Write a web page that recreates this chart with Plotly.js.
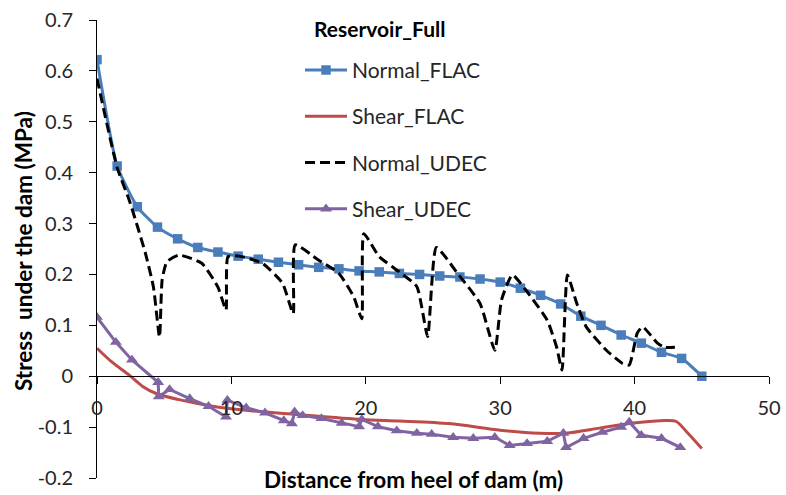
<!DOCTYPE html>
<html>
<head>
<meta charset="utf-8">
<script src="https://cdn.plot.ly/plotly-3.0.1.min.js"></script>
<style>
  html, body { margin: 0; padding: 0; background: #fff; }
  #chart { width: 786px; height: 495px; }
</style>
</head>
<body>
<div id="chart"></div>
<script>
// Contact stresses along the dam base, reservoir full (FLAC vs UDEC)
const normalFlacX = [0, 1.5, 3, 4.5, 6, 7.5, 9, 10.5, 12, 13.5, 15, 16.5, 18, 19.5, 21, 22.5,
  24, 25.5, 27, 28.5, 30, 31.5, 33, 34.5, 36, 37.5, 39, 40.5, 42, 43.5, 45];
const normalFlacY = [0.622, 0.413, 0.333, 0.293, 0.270, 0.253, 0.244, 0.236, 0.230, 0.224, 0.219,
  0.214, 0.211, 0.207, 0.205, 0.202, 0.200, 0.197, 0.195, 0.191, 0.185, 0.173, 0.159, 0.142,
  0.118, 0.100, 0.081, 0.065, 0.047, 0.035, 0.000];

const shearFlacX = [0, 1.1, 2.4, 3.4, 4.4, 6.1, 8.6, 11.1, 14.8, 19.7, 22.5, 26.2, 30, 32.9,
  34.9, 37.4, 39.9, 42.4, 43.1, 43.9, 45];
const shearFlacY = [0.055, 0.028, 0.002, -0.020, -0.034, -0.046, -0.059, -0.067, -0.075, -0.085,
  -0.088, -0.093, -0.106, -0.112, -0.112, -0.102, -0.092, -0.087, -0.089, -0.110, -0.142];

const normalUdecX = [0, 1.5, 2.4, 3.6, 4.2, 4.65, 4.85, 5.2, 6.1, 7.8, 9.0, 9.6, 9.75, 10.6,
  12.3, 13.8, 14.6, 14.75, 16.5, 18.0, 19.1, 19.7, 19.85, 21, 22.5, 23.8, 24.6, 25.25, 26.8,
  28.5, 29.6, 30.1, 30.9, 32, 33.5, 34.2, 34.6, 35.0, 35.7, 36.4, 37.9, 39.1, 39.6, 40.2,
  40.6, 41.7, 42.2, 43];
const normalUdecY = [0.585, 0.41, 0.346, 0.242, 0.175, 0.077, 0.19, 0.225, 0.238, 0.222, 0.175,
  0.13, 0.235, 0.236, 0.222, 0.183, 0.123, 0.258, 0.228, 0.202, 0.156, 0.113, 0.28, 0.235,
  0.205, 0.176, 0.078, 0.253, 0.203, 0.143, 0.051, 0.15, 0.199, 0.166, 0.11, 0.057, 0.012,
  0.199, 0.143, 0.097, 0.051, 0.025, 0.022, 0.085, 0.097, 0.065, 0.057, 0.057];

const shearUdecX = [0, 1.4, 2.6, 4.55, 4.6, 5.4, 6.9, 8.3, 9.6, 9.7, 11.1, 12.5, 13.9, 14.5,
  14.7, 15.3, 16.7, 18.2, 19.5, 19.7, 20.9, 22.3, 23.8, 24.9, 26.5, 28.0, 29.6, 30.7, 32.0,
  33.5, 34.7, 34.9, 36.2, 37.6, 39.0, 39.6, 40.5, 42.0, 43.4];
const shearUdecY = [0.116, 0.067, 0.032, -0.012, -0.040, -0.026, -0.044, -0.059, -0.080, -0.047,
  -0.062, -0.072, -0.087, -0.093, -0.070, -0.077, -0.083, -0.092, -0.099, -0.085, -0.099,
  -0.107, -0.112, -0.114, -0.120, -0.122, -0.120, -0.136, -0.132, -0.128, -0.112, -0.140,
  -0.122, -0.110, -0.100, -0.090, -0.116, -0.122, -0.140];

const yTickVals = [-0.2, -0.1, 0, 0.1, 0.2, 0.3, 0.4, 0.5, 0.6, 0.7];
const yTickText = ['-0.2', '-0.1', '0', '0.1', '0.2', '0.3', '0.4', '0.5', '0.6', '0.7'];
const xTickVals = [0, 10, 20, 30, 40, 50];

const chartTitle = 'Reservoir_Full';
const xTitle = 'Distance from heel of dam (m)';
const yTitle = 'Stress  under the dam (MPa)';

const FONT = 'Lato, "Open Sans", sans-serif';

const traces = [
  {
    name: 'Normal_FLAC', x: normalFlacX, y: normalFlacY, type: 'scatter', mode: 'lines+markers',
    line: { color: '#4A7EBB', width: 3, shape: 'spline', smoothing: 0.5 },
    marker: { symbol: 'square', size: 9.5, color: '#4A7EBB' },
    legendgroup: 'g1'
  },
  {
    name: 'Shear_FLAC', x: shearFlacX, y: shearFlacY, type: 'scatter', mode: 'lines',
    line: { color: '#BE4B48', width: 3, shape: 'spline', smoothing: 0.8 },
    legendgroup: 'g2'
  },
  {
    name: 'Normal_UDEC', x: normalUdecX, y: normalUdecY, type: 'scatter', mode: 'lines',
    line: { color: '#000000', width: 3, dash: '10px,5px', shape: 'spline', smoothing: 0.5 },
    legendgroup: 'g3'
  },
  {
    name: 'Shear_UDEC', x: shearUdecX, y: shearUdecY, type: 'scatter', mode: 'lines+markers',
    line: { color: '#8064A2', width: 3 },
    marker: { symbol: 'triangle-up', size: 10.5, color: '#8064A2' },
    legendgroup: 'g4'
  }
];

const layout = {
  width: 786, height: 495,
  margin: { l: 97, r: 17, t: 20, b: 17 },
  paper_bgcolor: '#ffffff', plot_bgcolor: '#ffffff',
  font: { family: FONT, size: 20, color: '#262626' },
  showlegend: true,
  legend: {
    x: (300 - 97) / 672, xanchor: 'left', y: 0.935, yanchor: 'top',
    bgcolor: 'rgba(0,0,0,0)', borderwidth: 0,
    font: { family: FONT, size: 21, color: '#262626' },
    tracegroupgap: 16,
    itemwidth: 42,
    traceorder: 'grouped'
  },
  xaxis: {
    range: [0, 50], anchor: 'free', position: 0.2 / 0.9,
    tickmode: 'array', tickvals: xTickVals,
    showgrid: false, zeroline: false,
    showline: true, linecolor: '#000', linewidth: 1,
    ticks: 'outside', ticklen: 7, tickcolor: '#000',
    ticklabelstandoff: 7,
    tickfont: { family: FONT, size: 20, color: '#262626' }
  },
  yaxis: {
    range: [-0.2, 0.7],
    tickmode: 'array', tickvals: yTickVals, ticktext: yTickText,
    showgrid: false, zeroline: false,
    showline: true, linecolor: '#000', linewidth: 1,
    ticks: 'outside', ticklen: 7, tickcolor: '#000',
    ticklabelstandoff: 12,
    tickfont: { family: FONT, size: 20, color: '#262626' }
  },
  annotations: [
    {
      text: '<b>' + chartTitle + '</b>', xref: 'paper', yref: 'paper',
      x: (379.5 - 97) / 672, y: 1 - (28 - 20) / 458, xanchor: 'center', yanchor: 'middle',
      showarrow: false, font: { family: FONT, size: 21, color: '#000' }
    },
    {
      text: '<b>' + xTitle + '</b>', xref: 'paper', yref: 'paper',
      x: (413 - 97) / 672, y: (478 - 480) / 458, xanchor: 'center', yanchor: 'middle',
      showarrow: false, font: { family: FONT, size: 22.5, color: '#000' }
    },
    {
      text: '<b>' + yTitle + '</b>', xref: 'paper', yref: 'paper', textangle: -90,
      x: (23 - 97) / 672, y: 1 - (251 - 20) / 458, xanchor: 'center', yanchor: 'middle',
      showarrow: false, font: { family: FONT, size: 22.5, color: '#000' }
    }
  ]
};

Plotly.newPlot('chart', traces, layout, { staticPlot: true, displayModeBar: false });
</script>
</body>
</html>
